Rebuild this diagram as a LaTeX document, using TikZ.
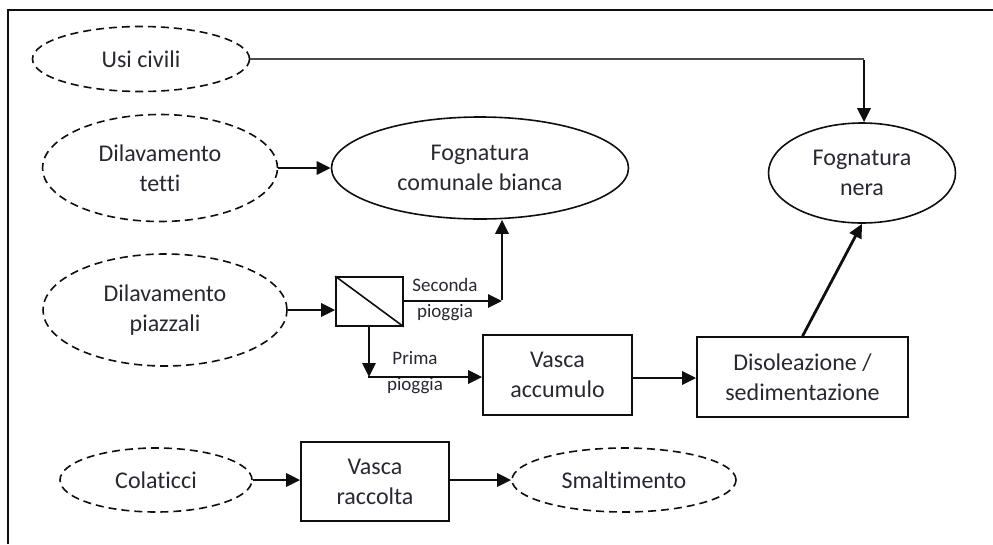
\documentclass[tikz,border=0pt]{standalone}
\usepackage{fontspec}
\setmainfont{Carlito}[Ligatures={NoCommon}]
\usetikzlibrary{shapes.geometric,arrows.meta}
\definecolor{txt}{RGB}{40,40,50}
\definecolor{ln}{RGB}{15,15,15}
\tikzset{
  big/.style={font=\fontsize{24}{30}\selectfont, text=txt, align=center},
  small/.style={font=\fontsize{19}{26}\selectfont, text=txt, align=center, inner sep=0pt},
  dell/.style={ellipse, draw=ln, line width=1.6pt, dash pattern=on 8pt off 5pt, inner sep=0pt, big},
  sell/.style={ellipse, draw=ln, line width=1.6pt, inner sep=0pt, big},
  boxn/.style={rectangle, draw=ln, line width=1.6pt, inner sep=0pt, big},
  arr/.style={draw=ln, line width=2.8pt, -{Triangle[length=14pt,width=13pt]}},
  thinline/.style={draw=ln!75, line width=1.6pt},
}
\begin{document}
\begin{tikzpicture}[x=1pt,y=-1pt]
\useasboundingbox (0,0) rectangle (993,544);
\fill[white] (0,0) rectangle (993,544);
% frame
\draw[ln, line width=2.2pt] (8,544) -- (8,10) -- (993,10);
% nodes
\node[dell, minimum width=217pt, minimum height=65pt] (usi) at (141,59) {Usi civili};
\node[dell, minimum width=235pt, minimum height=107pt] (tetti) at (160,168) {Dilavamento\\tetti};
\node[sell, minimum width=297pt, minimum height=102pt] (bianca) at (480,168) {Fognatura\\comunale bianca};
\node[sell, minimum width=187pt, minimum height=100pt] (nera) at (862,173) {Fognatura\\nera};
\node[dell, minimum width=244pt, minimum height=112pt] (piazzali) at (165,310) {Dilavamento\\piazzali};
\node[rectangle, draw=ln, line width=1.6pt, minimum width=67pt, minimum height=49pt, inner sep=0pt] (split) at (369.5,301.5) {};
\node[boxn, minimum width=149pt, minimum height=80pt] (accumulo) at (557.5,375) {Vasca\\accumulo};
\node[boxn, minimum width=211pt, minimum height=80pt] (disol) at (802.5,377) {Disoleazione /\\sedimentazione};
\node[dell, minimum width=192pt, minimum height=64pt] (colaticci) at (156,480) {Colaticci};
\node[boxn, minimum width=148pt, minimum height=79pt] (raccolta) at (375,481.5) {Vasca\\raccolta};
\node[dell, minimum width=224pt, minimum height=64pt] (smalt) at (624,480) {Smaltimento};
% labels
\node[small] (lsec) at (445,300) {Seconda\\pioggia};
\node[small] (lpri) at (415,373) {Prima\\pioggia};
% splitter diagonal
\draw[ln, line width=1.6pt] (split.north west) -- (split.south east);
% connectors
\coordinate (k1) at (864,59);
\draw[thinline] (usi.east) -- (k1);
\draw[arr] ([yshift=-1pt]k1) -- (k1 |- nera.north);
\draw[arr] (tetti.east) -- (bianca.west);
\draw[arr] (piazzali.east) -- (split.west |- piazzali.east);
\coordinate (k2) at (502,301);
\draw[arr] (split.east |- k2) -- (k2);
\draw[arr] ([yshift=1.4pt]k2) -- (k2 |- bianca.south);
\coordinate (k3) at (369,377);
\draw[arr] (split.south -| k3) -- (k3);
\draw[arr] ([xshift=-1.4pt]k3) -- (accumulo.west |- k3);
\draw[arr] (accumulo.east |- 0,378) -- (disol.west |- 0,378);
\draw[arr] (disol.north) -- (nera.south);
\draw[arr] (colaticci.east) -- (raccolta.west |- colaticci.east);
\draw[arr] (raccolta.east |- smalt.west) -- (smalt.west);
\end{tikzpicture}
\end{document}
